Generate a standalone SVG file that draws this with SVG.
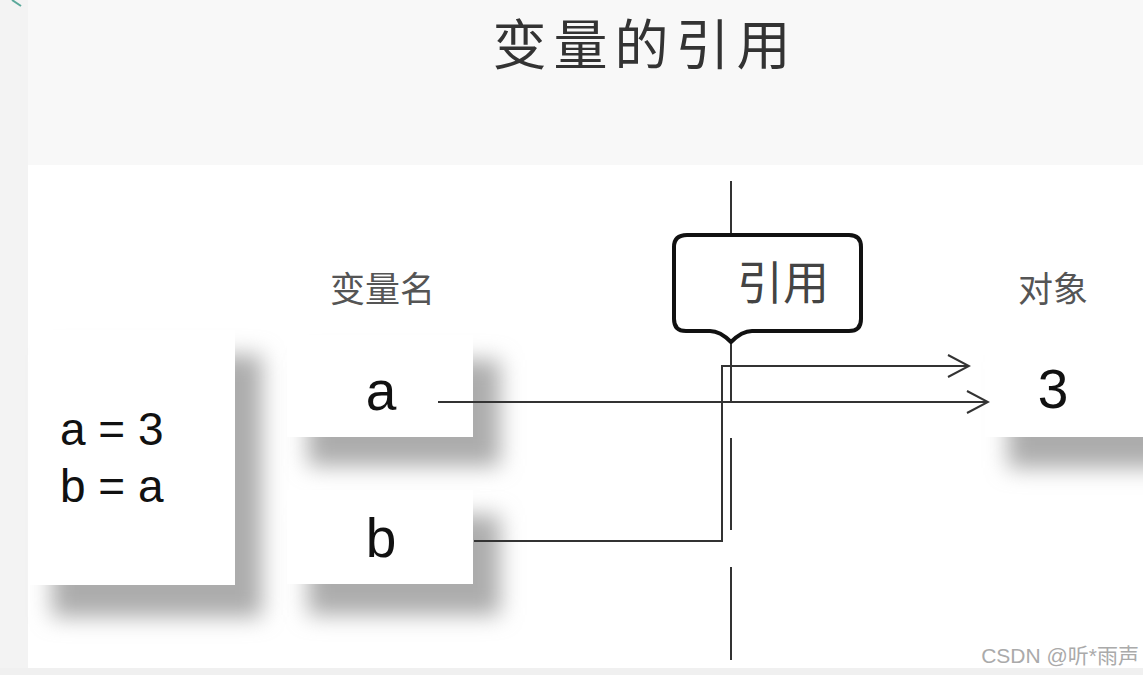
<svg xmlns="http://www.w3.org/2000/svg" width="1143" height="675" viewBox="0 0 1143 675">
<defs>
<filter id="blur" x="-40%" y="-40%" width="180%" height="180%"><feGaussianBlur stdDeviation="11"/></filter>
<marker id="arr" viewBox="0 0 24 24" refX="22" refY="12" markerWidth="24" markerHeight="24" markerUnits="userSpaceOnUse" orient="auto">
<path d="M1,1 L22,12 L1,23" fill="none" stroke="#333" stroke-width="2"/>
</marker>
</defs>
<style>
.box{fill:#ffffff}
.shadow{fill:#acacac;filter:url(#blur)}
.big{font-family:"Liberation Sans",Arial,sans-serif;font-size:46px;fill:#111}
.var{font-family:"Liberation Sans",Arial,sans-serif;font-size:55px;fill:#111}
.lbl{font-family:"Noto Sans CJK SC","Noto Sans",sans-serif;font-size:35px;fill:#555}
.ln{fill:none;stroke:#333;stroke-width:2}
.div{fill:none;stroke:#333;stroke-width:2}
</style>
<rect x="0" y="0" width="1143" height="675" fill="#f8f8f8"/>
<rect x="0" y="0" width="28" height="675" fill="#f3f3f3"/>
<path d="M12,0 L21,6" stroke="#5aa89a" stroke-width="2" fill="none"/>
<rect x="28" y="165" width="1115" height="503" fill="#ffffff"/>
<rect x="0" y="668" width="1143" height="7" fill="#f0f0f0"/>

<text x="645" y="65" text-anchor="middle" font-family="'Noto Sans CJK SC','Noto Sans',sans-serif" font-size="54" letter-spacing="7" fill="#333">变量的引用</text>

<g id="code">
<rect class="shadow" x="52" y="355" width="210" height="262"/>
<rect class="box" x="30" y="330" width="205" height="255"/>
<text class="big" x="60" y="445">a = 3</text>
<text class="big" x="60" y="502">b = a</text>
</g>

<text class="lbl" x="330" y="302">变量名</text>
<text class="lbl" x="1018" y="302">对象</text>

<g id="var-a">
<rect class="shadow" x="308" y="360" width="192" height="106"/>
<rect class="box" x="287" y="335" width="186" height="102"/>
<text class="var" x="381" y="410" text-anchor="middle">a</text>
</g>

<g id="var-b">
<rect class="shadow" x="308" y="515" width="192" height="100"/>
<rect class="box" x="287" y="490" width="186" height="94"/>
<text class="var" x="381" y="557" text-anchor="middle">b</text>
</g>

<g id="obj-3">
<rect class="shadow" x="1008" y="362" width="170" height="106"/>
<rect class="box" x="985" y="335" width="165" height="102"/>
<text class="var" x="1053" y="408" text-anchor="middle">3</text>
</g>

<g id="divider">
<path class="div" d="M731,181 V235"/>
<path class="div" d="M731,342 V402"/>
<path class="div" d="M731,438 V530"/>
<path class="div" d="M731,567 V660"/>
</g>

<g id="ref-callout">
<path d="M687,235 H849 Q861,235 861,247 V319 Q861,331 849,331 H752 Q742,331 731,342 Q720,331 710,331 H686 Q674,331 674,319 V247 Q674,235 687,235 Z" fill="#ffffff" stroke="#111" stroke-width="4" stroke-linejoin="round"/>
<text x="783" y="299" text-anchor="middle" font-family="'Noto Sans CJK SC','Noto Sans',sans-serif" font-size="46" fill="#444">引用</text>
</g>

<g id="connectors">
<path class="ln" d="M438,402 H988" marker-end="url(#arr)"/>
<path class="ln" d="M474,541 H722 V366 H969" marker-end="url(#arr)"/>
</g>

<text x="1139" y="663" text-anchor="end" font-family="'Liberation Sans','Noto Sans CJK SC',sans-serif" font-size="21" fill="#aaa">CSDN @听*雨声</text>
</svg>
